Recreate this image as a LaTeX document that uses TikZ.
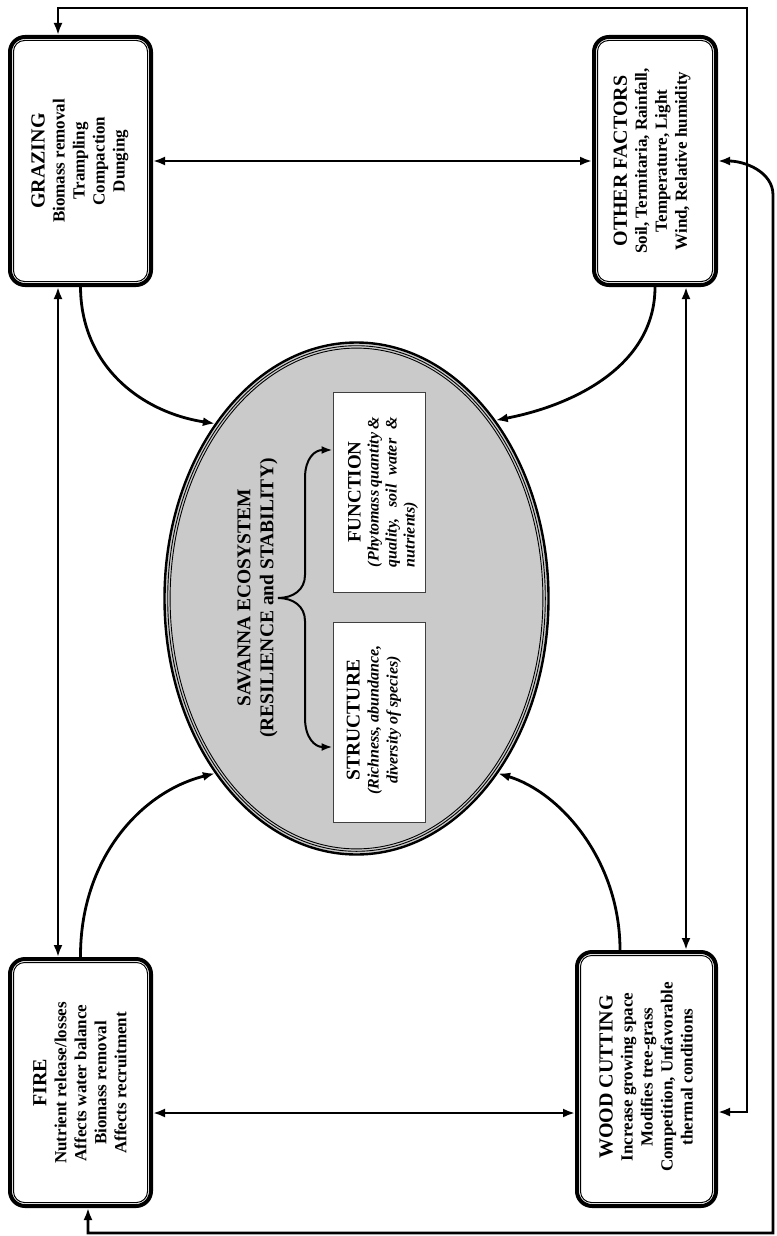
\documentclass[tikz,border=0pt]{standalone}
\usepackage{fontspec}
\setmainfont{Liberation Serif}
\usetikzlibrary{arrows.meta,shapes.geometric,calc}
\definecolor{ellgray}{RGB}{202,202,202}
\newcommand{\myinner}[1]{\draw[line width=1pt, rounded corners=11pt] ([shift={(5.5pt,-5.5pt)}]#1.north west) rectangle ([shift={(-5.5pt,5.5pt)}]#1.south east);}
\begin{document}
\begin{tikzpicture}[x=1pt,y=-1pt,
  outerbox/.style={draw, line width=4pt, rounded corners=15pt, inner sep=0pt, fill=white},
  boxtext/.style={rotate=90, align=center, inner sep=0pt, font=\bfseries\fontsize{17}{20}\selectfont},
  conn/.style={line width=2.8pt, {Latex[length=12pt,width=9pt]}-{Latex[length=12pt,width=9pt]}},
  arr/.style={line width=2.8pt, -{Latex[length=12pt,width=9pt]}},
  bracearr/.style={line width=2pt, -{Latex[length=11pt,width=8pt]}},
  innerbox/.style={draw=black!75, line width=1pt, fill=white, inner sep=0pt},
]
\useasboundingbox (0,0) rectangle (776,1236);

% main boxes
\node[outerbox, minimum width=141pt, minimum height=248pt] (g) at (80.5,161) {};
\node[outerbox, minimum width=122pt, minimum height=248pt] (o) at (655,161) {};
\node[outerbox, minimum width=141pt, minimum height=247pt] (f) at (80.5,1082.5) {};
\node[outerbox, minimum width=139pt, minimum height=254pt] (w) at (646.5,1079) {};
\myinner{g}
\myinner{o}
\myinner{f}
\myinner{w}

\node[boxtext] (gt) at (80,161) {{\fontsize{20}{22}\selectfont GRAZING}\\Biomass removal\\Trampling\\Compaction\\Dunging};
\node[boxtext] (ot) at (652,161) {{\fontsize{20}{22}\selectfont OTHER FACTORS}\\Soil, Termitaria, Rainfall,\\Temperature, Light\\Wind, Relative humidity};
\node[boxtext] (ft) at (80,1083) {{\fontsize{20}{22}\selectfont FIRE}\\Nutrient release/losses\\Affects water balance\\Biomass removal\\Affects recruitment};
\node[boxtext] (wt) at (646,1077) {{\fontsize{20}{22}\selectfont WOOD CUTTING}\\Increase growing space\\Modifies tree-grass\\Competition, Unfavorable\\thermal conditions};

% ellipse
\node[ellipse, draw, line width=2.4pt, fill=ellgray, minimum width=384pt, minimum height=512pt, inner sep=0pt] (e) at (356.5,598.5) {};
\draw[line width=0.9pt] (e.center) ellipse [x radius=188.8pt, y radius=252.8pt];
\draw[line width=0.9pt] (e.center) ellipse [x radius=186.4pt, y radius=250.4pt];

\node[rotate=90, align=center, inner sep=0pt, font=\bfseries\fontsize{19.5}{23}\selectfont] (title) at (257.5,598) {SAVANNA ECOSYSTEM\\(RESILIENCE and STABILITY)};

% inner boxes
\node[innerbox, minimum width=92pt, minimum height=200pt] (fu) at (379,492) {};
\node[innerbox, minimum width=92pt, minimum height=200pt] (st) at (379,722) {};
\node[rotate=90, align=center, inner sep=0pt, font=\bfseries\fontsize{16}{18}\selectfont] (fut) at (383,492)
  {{\fontsize{19}{22}\selectfont FUNCTION}\\\itshape\makebox[150pt][s]{(Phytomass quantity \&}\\\itshape\makebox[150pt][s]{quality, soil water \&}\\\itshape\makebox[150pt][l]{nutrients)}};
\node[rotate=90, align=center, inner sep=0pt, font=\bfseries\fontsize{16}{19}\selectfont] (stt) at (374,720)
  {{\fontsize{19.5}{23}\selectfont STRUCTURE}\\\itshape (Richness, abundance,\\\itshape diversity of species)};

% brace
\coordinate (bt) at (278,598);
\draw[bracearr] (bt) .. controls (293,598) and (305,590) .. (305,575) -- (305,478) .. controls (305,458) and (315,450) .. ([yshift=42pt]fu.west);
\draw[bracearr] (bt) .. controls (293,598) and (305,606) .. (305,621) -- (305,718) .. controls (305,738) and (315,747) .. ([yshift=-25pt]st.west);

% connectors between boxes
\draw[conn] (g.east) -- (o.west);
\coordinate (yFW) at (0,1113);
\draw[conn] (f.east |- yFW) -- (w.west |- yFW);
\coordinate (xGF) at (58,0);
\draw[conn] (g.south -| xGF) -- (f.north -| xGF);
\coordinate (xOW) at (686,0);
\draw[conn] (o.south -| xOW) -- (w.north -| xOW);

% curves to the ellipse
\coordinate (xWc) at (620,0);
\draw[arr] (g.south) .. controls (81,365) and (140,412) .. (e.129);
\draw[arr] (o.south) .. controls (655,365) and (575,405) .. (e.52);
\draw[arr] (f.north) .. controls (80,860) and (140,792) .. (e.231);
\draw[arr] (w.north -| xWc) .. controls (620,860) and (560,792) .. (e.309);

% outer loops
\coordinate (t1) at (58,8);
\coordinate (t2) at (747,8);
\coordinate (t3) at (747,1112);
\draw[conn] (g.north -| t1) -- (t1) -- (t2) -- (t3) -- (w.east |- t3);
\coordinate (b1) at (773,195);
\coordinate (b2) at (773,1233);
\coordinate (b3) at (88,1233);
\draw[conn] (o.east) .. controls (745,161) and (773,172) .. (b1) -- (b2) -- (b3) -- (f.south -| b3);
\end{tikzpicture}
\end{document}
